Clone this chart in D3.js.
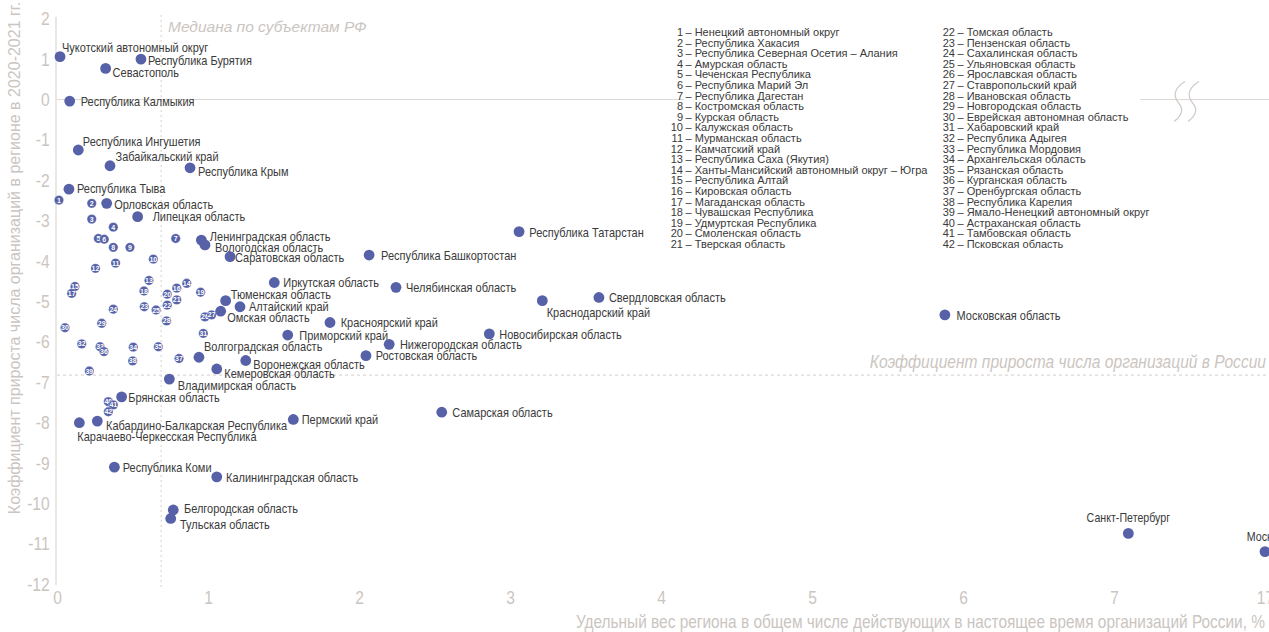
<!DOCTYPE html>
<html><head><meta charset="utf-8">
<script src="https://cdn.jsdelivr.net/npm/d3@7"></script>
<style>html,body{margin:0;padding:0;background:#fff;overflow:hidden}</style>
</head><body><svg id="c" width="1269" height="632"></svg>
<script>
// ---------- DATA ----------
const namedRegions = ["Чукотский автономный округ","Республика Бурятия","Севастополь","Республика Калмыкия","Республика Ингушетия","Забайкальский край","Республика Крым","Республика Тыва","Орловская область","Липецкая область","Ленинградская область","Вологодская область","Саратовская область","Республика Башкортостан","Республика Татарстан","Иркутская область","Челябинская область","Тюменская область","Алтайский край","Омская область","Красноярский край","Приморский край","Нижегородская область","Ростовская область","Новосибирская область","Краснодарский край","Свердловская область","Московская область","Волгоградская область","Воронежская область","Кемеровская область","Владимирская область","Самарская область","Брянская область","Кабардино-Балкарская Республика","Карачаево-Черкесская Республика","Пермский край","Республика Коми","Калининградская область","Белгородская область","Тульская область","Санкт-Петербург","Москва"];
const namedShare  = [0.02,0.556,0.322,0.084,0.141,0.351,0.881,0.079,0.329,0.534,0.956,0.98,1.146,2.067,3.06,1.439,2.245,1.117,1.212,1.084,1.808,1.528,2.20,2.046,2.863,3.214,3.589,5.88,0.94,1.25,1.058,0.744,2.548,0.428,0.267,0.148,1.565,0.38,1.058,0.77,0.753,7.095,17];
const namedGrowth = [1.06,1.0,0.77,-0.04,-1.25,-1.64,-1.69,-2.22,-2.57,-2.90,-3.48,-3.60,-3.89,-3.85,-3.27,-4.53,-4.65,-4.98,-5.13,-5.24,-5.52,-5.83,-6.06,-6.34,-5.80,-4.98,-4.90,-5.33,-6.38,-6.46,-6.67,-6.92,-7.74,-7.36,-7.96,-8.0,-7.92,-9.10,-9.34,-10.16,-10.37,-10.74,-11.19];

const numberedIds    = d3.range(1,43);
const numberedShare  = [0.013,0.23,0.23,0.373,0.274,0.313,0.786,0.373,0.483,0.638,0.388,0.255,0.609,0.859,0.119,0.793,0.097,0.576,0.951,0.73,0.793,0.73,0.578,0.373,0.656,0.98,1.024,0.726,0.296,0.053,0.969,0.164,0.285,0.505,0.671,0.311,0.808,0.501,0.214,0.34,0.373,0.34];
const numberedGrowth = [-2.49,-2.57,-2.96,-3.16,-3.44,-3.46,-3.44,-3.66,-3.66,-3.95,-4.05,-4.18,-4.48,-4.55,-4.63,-4.67,-4.80,-4.74,-4.77,-4.82,-4.96,-5.09,-5.13,-5.19,-5.21,-5.38,-5.33,-5.48,-5.54,-5.65,-5.79,-6.05,-6.12,-6.13,-6.12,-6.24,-6.41,-6.47,-6.72,-7.48,-7.56,-7.73];
const legendNames = ["Ненецкий автономный округ","Республика Хакасия","Республика Северная Осетия – Алания","Амурская область","Чеченская Республика","Республика Марий Эл","Республика Дагестан","Костромская область","Курская область","Калужская область","Мурманская область","Камчатский край","Республика Саха (Якутия)","Ханты-Мансийский автономный округ – Югра","Республика Алтай","Кировская область","Магаданская область","Чувашская Республика","Удмуртская Республика","Смоленская область","Тверская область","Томская область","Пензенская область","Сахалинская область","Ульяновская область","Ярославская область","Ставропольский край","Ивановская область","Новгородская область","Еврейская автономная область","Хабаровский край","Республика Адыгея","Республика Мордовия","Архангельская область","Рязанская область","Курганская область","Оренбургская область","Республика Карелия","Ямало-Ненецкий автономный округ","Астраханская область","Тамбовская область","Псковская область"];

const xTickValues = [0,1,2,3,4,5,6,7,17];
const xTickLabels = ["0","1","2","3","4","5","6","7","17"];
const yTickValues = [-12,-11,-10,-9,-8,-7,-6,-5,-4,-3,-2,-1,0,1,2];
const medianShare = 0.69;
const russiaGrowth = -6.82;
const xTitle = "Удельный вес региона в общем числе действующих в настоящее время организаций России, %";
const yTitle = "Коэффициент прироста числа организаций в регионе в 2020-2021 гг.";
const medianLabel = "Медиана по субъектам РФ";
const russiaLabel = "Коэффициент прироста числа организаций в России";

// ---------- LAYOUT (label placement, not data) ----------
const labelNudge = [[2,-9],[7,1],[7,3.5],[11,0],[4.5,-8.5],[5.5,-9.5],[8,4],[8,-1],[7.5,0.5],[15,0],[8.5,-3.5],[10,2.3],[5,0.6],[12,0.5],[10.3,0.5],[9,0],[10,0],[5,-6.5],[9,0],[6.5,5.7],[10.7,0],[11.6,0],[10.7,0],[9.7,0],[10,0],[4.4,12],[10,0],[11.7,0],[5,-10.6],[7.6,3.6],[7.6,4.3],[8.4,6],[10.6,0],[6.6,0],[8.7,4],[-2,14],[8.4,0],[8.4,0],[9.3,0],[10.7,-1.7],[9.3,5.7],[0,-16],[0,-15]];
const centeredLabels = ["Санкт-Петербург","Москва"];

// ---------- FONT ----------
function hasFont(f){const c=document.createElement('canvas').getContext('2d');const s='Коэффициент прироста abc';c.font='20px monospace';const w0=c.measureText(s).width;c.font="20px '"+f+"', monospace";return Math.abs(c.measureText(s).width-w0)>0.5;}
const NARROW = hasFont('Liberation Sans Narrow');
const NF = NARROW ? "'Liberation Sans Narrow', sans-serif" : "'Liberation Sans', Arial, sans-serif";
const SX = NARROW ? 1 : 0.82;
const RF = "'Liberation Sans', Arial, sans-serif";

const W=1269,H=632;
const svg=d3.select('#c');
const x0=57,k=151;
const x=d3.scaleLinear().domain([0,7.5,17]).range([x0,x0+7.5*k,x0+8*k]);
const y=d3.scaleLinear().domain([-12,2]).range([584.3,18.7]);

const grey='#cbc5c1', lineGrey='#dcd8d5', dotCol='#5661a8', txtCol='#3a3a3a';

function txt(g,px,py,s){return g.append('text').attr('transform',`translate(${px},${py}) scale(${SX},1)`).style('font-family',NF).text(s);}

// zero line
svg.append('line').attr('x1',x0).attr('x2',W).attr('y1',y(0)).attr('y2',y(0)).attr('stroke',lineGrey).attr('stroke-width',1);
// y axis line
svg.append('line').attr('x1',x0-1).attr('x2',x0-1).attr('y1',y(2)-2).attr('y2',y(-12)+1).attr('stroke',lineGrey).attr('stroke-width',1.2);
// median line
svg.append('line').attr('x1',x(medianShare)).attr('x2',x(medianShare)).attr('y1',15).attr('y2',588).attr('stroke',lineGrey).attr('stroke-width',1.2).attr('stroke-dasharray','2,3');
// russia line
svg.append('line').attr('x1',x0).attr('x2',W).attr('y1',y(russiaGrowth)).attr('y2',y(russiaGrowth)).attr('stroke',lineGrey).attr('stroke-width',1.2).attr('stroke-dasharray','3,3');

// legend background
svg.append('rect').attr('x',684).attr('y',24).attr('width',456).attr('height',228).attr('fill','#fff');

// break symbol
const bg=svg.append('g').attr('fill','none').attr('stroke','#cfcbc8').attr('stroke-width',1.2);
[1178,1192].forEach(bx=>{
  bg.append('path').attr('d',`M${bx+7},${y(0)-18} C${bx-6},${y(0)-10} ${bx-4},${y(0)-2} ${bx+1},${y(0)+4} S${bx+4},${y(0)+16} ${bx-4},${y(0)+22}`);
});

// axes
const yAxis=svg.append('g').attr('transform',`translate(${x0},0)`).call(d3.axisLeft(y).tickValues(yTickValues).tickSize(0).tickPadding(9).tickFormat(d=>d));
const xAxis=svg.append('g').attr('transform',`translate(0,584)`).call(d3.axisBottom(x).tickValues(xTickValues).tickSize(0).tickPadding(7).tickFormat((d,i)=>xTickLabels[i]));
[yAxis,xAxis].forEach(a=>{a.select('.domain').remove();a.selectAll('text').style('font-family',NF).style('font-size','19px').attr('fill',grey).attr('transform',`scale(${SX},1)`);});

// titles
txt(svg,1265,628,xTitle).attr('text-anchor','end').style('font-size','18.8px').attr('fill',grey);
svg.append('text').attr('transform',`translate(20,258) rotate(-90)`).attr('text-anchor','middle').style('font-family',RF).style('font-size','16px').attr('fill',grey).text(yTitle);
svg.append('text').attr('x',168).attr('y',32).style('font-family',RF).style('font-size','15.5px').style('font-style','italic').attr('fill',grey).text(medianLabel);
txt(svg,1266,368,russiaLabel).attr('text-anchor','end').style('font-size','19px').style('font-style','italic').attr('fill',grey);

// legend
const lg=svg.append('g').style('font-family',RF).style('font-size','11px').attr('fill',txtCol);
legendNames.forEach((nm,i)=>{
  const col=i<21?0:1, row=i%21;
  const nx=col?955:683, ly=32+row*10.6+4;
  lg.append('text').attr('x',nx).attr('y',ly).attr('text-anchor','end').text(String(i+1));
  lg.append('text').attr('x',nx+2.5).attr('y',ly).text('– '+nm);
});

// numbered points
const numbered=numberedIds.map((id,i)=>({id,x:numberedShare[i],y:numberedGrowth[i]}));
const ng=svg.append('g');
const nn=ng.selectAll('g').data(numbered).join('g').attr('transform',d=>`translate(${x(d.x)},${y(d.y)})`);
nn.append('circle').attr('r',4.7).attr('fill',dotCol).attr('stroke','#fff').attr('stroke-width',0.3);
nn.append('text').attr('text-anchor','middle').attr('dy','0.36em').style('font-family',NF).style('font-size','7px').style('font-weight','bold').attr('fill','#fff').text(d=>d.id);

// named points
const named=namedRegions.map((n,i)=>({n,x:namedShare[i],y:namedGrowth[i],d:labelNudge[i]}));
const pg=svg.append('g');
pg.selectAll('circle').data(named).join('circle').attr('cx',d=>x(d.x)).attr('cy',d=>y(d.y)).attr('r',5.4).attr('fill',dotCol);
const tg=pg.append('g').style('font-size','13.4px').attr('fill',txtCol);
named.forEach(d=>{
  const t=txt(tg,x(d.x)+d.d[0],y(d.y)+d.d[1],d.n).attr('dy','0.35em');
  if(centeredLabels.includes(d.n)) t.attr('text-anchor','middle').style('font-size','13px');
});
</script></body></html>
